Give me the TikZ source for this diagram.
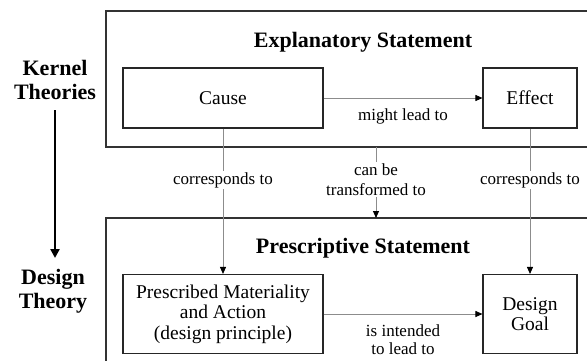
\documentclass[tikz,border=0pt]{standalone}
\usepackage{fontspec}
\setmainfont{Liberation Serif}
\usetikzlibrary{arrows.meta}
\tikzset{
  outerbox/.style={draw=black!80, line width=1.3pt},
  innerbox/.style={draw=black!85, line width=1.1pt, align=center, font=\fontsize{19.5}{20.5}\selectfont, inner sep=2pt},
  conn/.style={draw=black!45, line width=0.9pt, -{Triangle[length=7pt,width=6pt,fill=black,color=black]}},
  lbl/.style={font=\fontsize{17}{20.5}\selectfont, align=center, fill=white, inner sep=1pt},
  head/.style={font=\fontsize{22}{24}\selectfont\bfseries, align=center},
  bigarrow/.style={line width=2.6pt, -{Triangle[length=9pt,width=9pt]}},
}
\begin{document}
\begin{tikzpicture}[x=1pt,y=-1pt]
\clip (0,0) rectangle (587,360);
\fill[white] (0,0) rectangle (587,360);
% outer boxes
\draw[outerbox] (106,11) rectangle (620,147);
\draw[outerbox] (106,218) rectangle (620,400);
\node[head] (expl) at (363,42) {Explanatory Statement};
\node[head] (presch) at (363,248) {Prescriptive Statement};
% inner boxes
\node[innerbox, minimum width=200pt, minimum height=60pt] (cause) at (223,98) {Cause};
\node[innerbox, minimum width=94pt, minimum height=60pt] (effect) at (530,98) {Effect};
\node[innerbox, minimum width=200pt, minimum height=79pt] (presc) at (223,314) {Prescribed Materiality\\and Action\\(design principle)};
\node[innerbox, minimum width=94pt, minimum height=79pt] (goal) at (530,314) {Design\\Goal};
% connectors
\draw[conn] (cause) -- node[lbl, below=9pt, fill=none] {might lead to} (effect);
\draw[conn] (presc) -- node[lbl, below=9pt, fill=none, font=\fontsize{17}{18.5}\selectfont] {is intended\\to lead to} (goal);
\draw[conn] (cause) -- node[lbl, pos=0.354] {corresponds to} (presc);
\draw[conn] (effect) -- node[lbl, pos=0.354] {corresponds to} (goal);
\coordinate (tA) at (376,147);
\coordinate (tB) at (376,218);
\draw[conn] (tA) -- node[lbl, pos=0.46] {can be\\transformed to} (tB);
% left side
\node[head] (kernel) at (55,80) {Kernel\\Theories};
\node[head] (design) at (53,291) {Design\\Theory};
\coordinate (kA) at (55,110);
\coordinate (kB) at (55,258);
\draw[bigarrow] (kA) -- (kB);
\end{tikzpicture}
\end{document}
